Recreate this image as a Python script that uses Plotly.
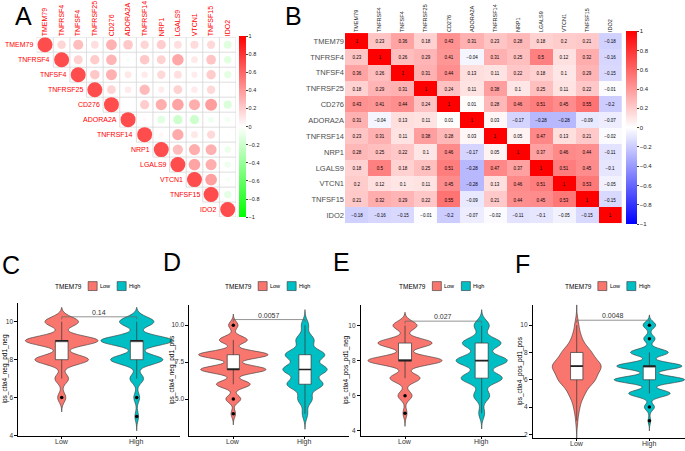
import numpy as np
import plotly.graph_objects as go

W, H = 685, 451
FONT = "Liberation Sans, Arial, sans-serif"

# ---------------- data ----------------
genes = ["TMEM79", "TNFRSF4", "TNFSF4", "TNFRSF25", "CD276", "ADORA2A",
         "TNFRSF14", "NRP1", "LGALS9", "VTCN1", "TNFSF15", "IDO2"]

corr = [
    [1, 0.23, 0.36, 0.18, 0.43, 0.31, 0.23, 0.28, 0.18, 0.2, 0.21, -0.18],
    [0.23, 1, 0.26, 0.29, 0.41, -0.04, 0.31, 0.25, 0.5, 0.12, 0.32, -0.16],
    [0.36, 0.26, 1, 0.31, 0.44, 0.13, 0.11, 0.22, 0.18, 0.1, 0.29, -0.15],
    [0.18, 0.29, 0.31, 1, 0.24, 0.11, 0.38, 0.1, 0.25, 0.11, 0.22, -0.01],
    [0.43, 0.41, 0.44, 0.24, 1, 0.01, 0.28, 0.46, 0.51, 0.45, 0.55, -0.2],
    [0.31, -0.04, 0.13, 0.11, 0.01, 1, 0.03, -0.17, -0.28, -0.28, -0.09, -0.07],
    [0.23, 0.31, 0.11, 0.38, 0.28, 0.03, 1, 0.05, 0.47, 0.13, 0.21, -0.02],
    [0.28, 0.25, 0.22, 0.1, 0.46, -0.17, 0.05, 1, 0.37, 0.46, 0.44, -0.11],
    [0.18, 0.5, 0.18, 0.25, 0.51, -0.28, 0.47, 0.37, 1, 0.51, 0.45, -0.1],
    [0.2, 0.12, 0.1, 0.11, 0.45, -0.28, 0.13, 0.46, 0.51, 1, 0.53, -0.05],
    [0.21, 0.32, 0.29, 0.22, 0.55, -0.09, 0.21, 0.44, 0.45, 0.53, 1, -0.15],
    [-0.18, -0.16, -0.15, -0.01, -0.2, -0.07, -0.02, -0.11, -0.1, -0.05, -0.15, 1],
]

colorbar_ticks = [1, 0.8, 0.6, 0.4, 0.2, 0, -0.2, -0.4, -0.6, -0.8, -1]

# IPS score distributions (patients per 1000 at each score)
score_levels = [3, 4, 5, 6, 7, 8, 9, 10]
groups = ["Low", "High"]
C_low = [0, 0, 0, 45, 75, 295, 400, 185]
C_high = [0, 0, 20, 32, 75, 288, 395, 190]
D_low = [0, 20, 66, 150, 290, 308, 124, 42]
D_high = [0, 33, 87, 219, 268, 240, 109, 44]
E_low = [0, 0, 20, 70, 150, 370, 270, 120]
E_high = [0, 0, 35, 95, 245, 305, 230, 90]
F_low = [13, 38, 100, 240, 330, 190, 63, 26]
F_high = [10, 40, 165, 280, 260, 150, 45, 50]

p_values = ["0.14", "0.0057", "0.027", "0.0048"]
y_titles = ["ips_ctla4_neg_pd1_neg", "ips_ctla4_neg_pd1_pos",
            "ips_ctla4_pos_pd1_neg", "ips_ctla4_pos_pd1_pos"]
y_ticks = [[4, 6, 8, 10], [5, 7.5, 10], [4, 6, 8, 10], [2, 4, 6, 8, 10]]
y_ticktext = [["4", "6", "8", "10"], ["5.0", "7.5", "10.0"],
              ["4", "6", "8", "10"], ["2", "4", "6", "8", "10"]]
legend_title = "TMEM79"

# ---------------- styling / layout ----------------
LOW_COL, HIGH_COL = "#F8766D", "#00BFC4"
cs_A = [[0, "#00FF00"], [0.5, "#FFFFFF"], [1, "#FF0000"]]
cs_B = [[0, "#0000FF"], [0.5, "#FFFFFF"], [1, "#FF0000"]]


def px(x):
    return x / W


def py(y):
    return 1 - y / H


fig = go.Figure()
n = len(genes)

# ---- Panel A: corrplot (upper triangle circles) ----
gx, gy = [], []
for k in range(n + 1):
    gx += [max(k - 1, 0) - 0.5, n - 0.5, None]
    gy += [k - 0.5, k - 0.5, None]
    gx += [k - 0.5, k - 0.5, None]
    gy += [-0.5, min(k, n - 1) + 0.5, None]
fig.add_trace(go.Scatter(x=gx, y=gy, mode="lines", line=dict(color="#d6d6d6", width=0.8),
                         xaxis="x", yaxis="y", hoverinfo="skip", showlegend=False))
cx, cy, cv = [], [], []
for i in range(n):
    for j in range(i, n):
        cx.append(j)
        cy.append(i)
        cv.append(corr[i][j])
fig.add_trace(go.Scatter(
    x=cx, y=cy, mode="markers", xaxis="x", yaxis="y", showlegend=False, hoverinfo="skip",
    marker=dict(size=[15 * abs(v) ** 0.38 for v in cv], color=cv, cmin=-1, cmax=1,
                colorscale=cs_A, line=dict(width=0), showscale=True,
                colorbar=dict(x=px(239), xanchor="left", y=py(127.5), yanchor="middle",
                              len=181, lenmode="pixels", thickness=7, thicknessmode="pixels",
                              xpad=0, ypad=0, outlinewidth=0, tickvals=colorbar_ticks,
                              ticks="outside", ticklen=2, tickwidth=0.5,
                              tickfont=dict(size=5.5, color="#222", family=FONT)))))

annotations = []
for i, g in enumerate(genes):
    annotations.append(dict(x=i - 0.5, y=i, xref="x", yref="y", text=g, showarrow=False,
                            xanchor="right", yanchor="middle", xshift=-1,
                            font=dict(size=7, color="#FF0000", family=FONT)))

# ---- Panel B: heatmap ----
def fmt(v):
    s = f"{v:g}"
    return s.replace("-", "\u2212")


txt = [[fmt(v) for v in row] for row in corr]
fig.add_trace(go.Heatmap(
    z=corr, x=list(range(n)), y=list(range(n)), text=txt, texttemplate="%{text}",
    textfont=dict(size=4.5, color="black", family=FONT), colorscale=cs_B, zmin=-1, zmax=1,
    xaxis="x2", yaxis="y2", hoverinfo="skip",
    colorbar=dict(x=px(626), xanchor="left", y=py(128.5), yanchor="middle",
                  len=193, lenmode="pixels", thickness=11, thicknessmode="pixels",
                  xpad=0, ypad=0, outlinewidth=0, tickvals=colorbar_ticks,
                  ticks="outside", ticklen=2, tickwidth=0.5,
                  tickfont=dict(size=6, color="#222", family=FONT))))

# ---- Panels C-F: violins ----
panel_data = [(C_low, C_high), (D_low, D_high), (E_low, E_high), (F_low, F_high)]
letters = ["C", "D", "E", "F"]
bandwidths = [(0.25, 0.25), (0.25, 0.35), (0.25, 0.3), (0.5, 0.25)]
bracket_y = [10.26, 10.38, 10.25, 10.36]
# pixel boxes: (left, right, top, bottom), x range, y range, y-title x
geom = [
    ((18.3, 180.0, 305.0, 439.0), (0.421, 2.577), (3.97, 10.99), 5),
    ((189.3, 349.0, 306.7, 439.3), (0.386, 2.614), (2.47, 11.39), 172),
    ((360.7, 526.0, 306.7, 439.3), (0.422, 2.578), (3.68, 11.19), 346),
    ((532.7, 685.0, 306.7, 441.0), (0.394, 2.49), (1.73, 11.5), 520),
]
layout_axes = {}
shapes = []
for p in range(4):
    k = p + 3
    xa, ya = f"x{k}", f"y{k}"
    (l, r, t, b), xr, yr, tx = geom[p]
    for gi, (counts, col) in enumerate(zip(panel_data[p], [LOW_COL, HIGH_COL])):
        pos = gi + 1
        bw = bandwidths[p][gi]
        data = np.repeat(score_levels, counts).astype(float)
        fig.add_trace(go.Violin(
            y=data.tolist(), x0=pos, xaxis=xa, yaxis=ya, bandwidth=bw, spanmode="manual",
            span=[data.min() - 3 * bw, data.max() + 3 * bw], scalegroup=letters[p],
            scalemode="width", fillcolor=col, line=dict(color="#333333", width=0.6),
            points=False, box_visible=False, meanline_visible=False, hoverinfo="skip",
            showlegend=False, name=groups[gi]))
        q1, med, q3 = np.percentile(data, [25, 50, 75])
        iqr = q3 - q1
        lo_f, hi_f = q1 - 1.5 * iqr, q3 + 1.5 * iqr
        inside = data[(data >= lo_f) & (data <= hi_f)]
        outl = np.unique(data[(data < lo_f) | (data > hi_f)])
        fig.add_trace(go.Box(
            x=[pos], q1=[q1], median=[med], q3=[q3], lowerfence=[inside.min()],
            upperfence=[inside.max()], width=0.17, fillcolor="white",
            line=dict(color="#333333", width=0.7), whiskerwidth=0, boxpoints=False,
            xaxis=xa, yaxis=ya, hoverinfo="skip", showlegend=False))
        fig.add_trace(go.Scatter(x=[pos - 0.085, pos + 0.085], y=[med, med], mode="lines",
                                 line=dict(color="#222222", width=1.6), xaxis=xa, yaxis=ya,
                                 hoverinfo="skip", showlegend=False))
        if len(outl):
            fig.add_trace(go.Scatter(x=[pos] * len(outl), y=outl.tolist(), mode="markers",
                                     marker=dict(color="black", size=3.5), xaxis=xa, yaxis=ya,
                                     hoverinfo="skip", showlegend=False))
        # x category label
        annotations.append(dict(x=pos, y=py(b + 5.5), xref=xa, yref="paper", text=groups[gi],
                                showarrow=False, xanchor="center", yanchor="middle",
                                font=dict(size=7, color="#333333", family=FONT)))
    # significance bracket
    y0 = bracket_y[p]
    tip = 0.02 * (yr[1] - yr[0])
    fig.add_trace(go.Scatter(x=[1, 1, 2, 2], y=[y0 - tip, y0, y0, y0 - tip], mode="lines",
                             line=dict(color="#666666", width=0.7), xaxis=xa, yaxis=ya,
                             hoverinfo="skip", showlegend=False))
    annotations.append(dict(x=1.5, y=y0, xref=xa, yref=ya, text=p_values[p], showarrow=False,
                            yanchor="bottom", yshift=-1,
                            font=dict(size=7, color="#333333", family=FONT)))
    layout_axes[f"xaxis{k}"] = dict(
        domain=[px(l), px(r)], range=list(xr), anchor=ya, tickvals=[1, 2],
        showticklabels=False, showline=True, linecolor="black", linewidth=0.8,
        ticks="outside", ticklen=2, tickcolor="black", tickwidth=0.8,
        showgrid=False, zeroline=False, fixedrange=True)
    layout_axes[f"yaxis{k}"] = dict(
        domain=[py(b), py(t)], range=list(yr), anchor=xa, tickvals=y_ticks[p],
        ticktext=y_ticktext[p], showline=True, linecolor="black", linewidth=0.8,
        ticks="outside", ticklen=3, tickcolor="black", tickwidth=0.8,
        tickfont=dict(size=6.5, color="#333333", family=FONT), showgrid=False, zeroline=False,
        fixedrange=True)
    # y axis title
    annotations.append(dict(x=px(tx), y=py((t + b) / 2), xref="paper", yref="paper",
                            text=y_titles[p], textangle=-90, showarrow=False,
                            xanchor="center", yanchor="middle",
                            font=dict(size=6.5, color="black", family=FONT)))
    # legend (manual, ggplot style)
    cxp = (l + r) / 2
    ly = 288
    annotations.append(dict(x=px(cxp - 15), y=py(ly), xref="paper", yref="paper",
                            text=legend_title, showarrow=False, xanchor="right",
                            yanchor="middle", font=dict(size=6.5, color="black", family=FONT)))
    for off, col, lab in [(-11, LOW_COL, "Low"), (18, HIGH_COL, "High")]:
        shapes.append(dict(type="rect", xref="paper", yref="paper",
                           x0=px(cxp + off), x1=px(cxp + off + 9),
                           y0=py(ly + 4.5), y1=py(ly - 4.5), fillcolor=col,
                           line=dict(color="#333333", width=0.6)))
        annotations.append(dict(x=px(cxp + off + 10), y=py(ly), xref="paper", yref="paper",
                                text=lab, showarrow=False, xanchor="left", yanchor="middle",
                                font=dict(size=5.5, color="black", family=FONT)))

# panel letters
for lab, (lx, lyy, anc) in zip(["A", "B", "C", "D", "E", "F"],
                               [(23, 0, "top"), (293, 0, "top"), (11, 267, "middle"),
                                (172, 264, "middle"), (341, 264, "middle"), (522, 266, "middle")]):
    annotations.append(dict(x=px(lx), y=py(lyy), xref="paper", yref="paper", text=lab,
                            showarrow=False, xanchor="center", yanchor=anc,
                            font=dict(size=25, color="black", family=FONT)))

fig.update_layout(
    width=W, height=H, margin=dict(l=0, r=0, t=0, b=0), paper_bgcolor="white",
    plot_bgcolor="white", showlegend=False, hovermode=False,
    font=dict(family=FONT), violingap=0.03, violingroupgap=0,
    xaxis=dict(domain=[px(36.7), px(236)], range=[-0.5, n - 0.5], anchor="y", side="top",
               tickvals=list(range(n)), ticktext=genes, tickangle=-90, ticks="",
               tickfont=dict(size=7, color="#FF0000", family=FONT), showgrid=False,
               zeroline=False, showline=False, fixedrange=True),
    yaxis=dict(domain=[py(218.5), py(37.5)], range=[n - 0.5, -0.5], anchor="x",
               showticklabels=False, showgrid=False, zeroline=False, showline=False,
               fixedrange=True),
    xaxis2=dict(domain=[px(345), px(621.7)], range=[-0.5, n - 0.5], anchor="y2", side="top",
                tickvals=list(range(n)), ticktext=genes, tickangle=-90, ticks="",
                tickfont=dict(size=5.5, color="#1a1a1a", family=FONT), showgrid=False,
                zeroline=False, showline=False, fixedrange=True),
    yaxis2=dict(domain=[py(225), py(33.3)], range=[n - 0.5, -0.5], anchor="x2",
                tickvals=list(range(n)), ticktext=genes, ticks="",
                tickfont=dict(size=7.5, color="#4d4d4d", family=FONT), showgrid=False,
                zeroline=False, showline=False, fixedrange=True),
    annotations=annotations, shapes=shapes,
    **layout_axes,
)

fig.write_html("out.html", config={"displayModeBar": False},
               post_script="document.body.style.margin='0px';document.body.style.overflow='hidden';")
